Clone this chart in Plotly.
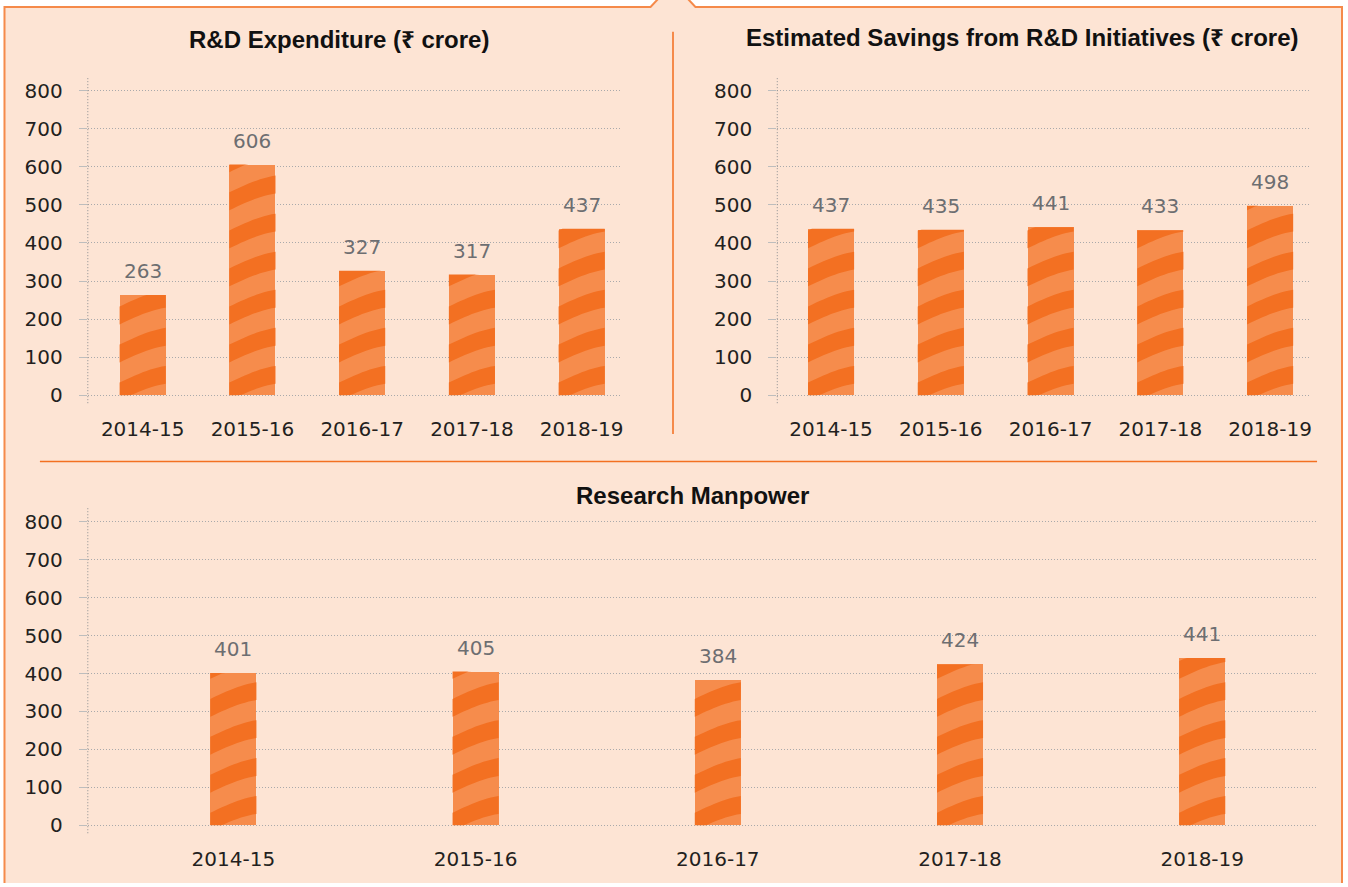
import math
import plotly.graph_objects as go

# ---------------- data ----------------
years = ["2014-15", "2015-16", "2016-17", "2017-18", "2018-19"]
rd_expenditure = [263, 606, 327, 317, 437]
estimated_savings = [437, 435, 441, 433, 498]
research_manpower = [401, 405, 384, 424, 441]
y_tick_values = [0, 100, 200, 300, 400, 500, 600, 700, 800]

titles = [
    "R&D Expenditure (₹ crore)",
    "Estimated Savings from R&D Initiatives (₹ crore)",
    "Research Manpower",
]

# ---------------- style ----------------
W, H = 1348, 887
PEACH = "#FDE4D4"
ORANGE = "#F37021"
LIGHT_ORANGE = "#F68C4C"
DARK_STRIPE = "#F37022"
GRID = "#A9A9AB"
TICK_FONT = dict(family="DejaVu Sans", size=20, color="#231F20")
LABEL_FONT = dict(family="DejaVu Sans", size=20, color="#6D6E71")
TITLE_FONT = dict(family="Liberation Sans, Arial, Noto Sans", size=24, color="#111111")


def px(x):
    return x / W


def py(y):
    return 1 - y / H


panels = [
    dict(values=rd_expenditure, xd=(88, 622), yd=(77, 405), xr=[-0.5, 4.355], bw=0.42,
         title_xy=(340, 40)),
    dict(values=estimated_savings, xd=(779, 1312), yd=(77, 405), xr=[-0.49, 4.355], bw=0.42,
         title_xy=(1025, 38)),
    dict(values=research_manpower, xd=(88, 1320), yd=(510, 837), xr=[-0.601, 4.474], bw=0.19,
         title_xy=(694, 498)),
]


def stripe_path(xc, half, v, period=100.0, thick=47.0, amp=44.0, phase=-14.0, n=12):
    parts = []
    k = -2
    while phase + k * period < v + 5:
        base = phase + k * period
        lo, hi = [], []
        for i in range(n + 1):
            t = i / n
            x = xc - half + 2 * half * t
            off = amp * (0.45 * t + 0.55 * math.sin(t * math.pi / 2))
            lo.append((x, min(max(base + off, 0), v)))
            hi.append((x, min(max(base + thick + off, 0), v)))
        if any(b[1] - a[1] > 0.01 for a, b in zip(lo, hi)):
            pts = lo + hi[::-1]
            parts.append("M " + " L ".join(f"{x:.4f},{y:.2f}" for x, y in pts) + " Z")
        k += 1
    return " ".join(parts)


fig = go.Figure()
shapes = []
annotations = []

# frame (peach panel with notch)
frame_pts = [(4, 887), (4, 7), (652, 7), (659, 0), (690, 0), (698, 7), (1345, 7), (1345, 887)]
shapes.append(dict(type="path", xref="paper", yref="paper", layer="below",
                   path="M " + " L ".join(f"{px(x):.5f},{py(y):.5f}" for x, y in frame_pts) + " Z",
                   fillcolor=PEACH, line=dict(width=0)))
border = (f"M {px(4.5):.5f},{py(887):.5f} L {px(4.5):.5f},{py(7):.5f} L {px(652):.5f},{py(7):.5f} "
          f"L {px(659.5):.5f},{py(-1):.5f} M {px(689.5):.5f},{py(-1):.5f} L {px(697):.5f},{py(7):.5f} "
          f"L {px(1345):.5f},{py(7):.5f} L {px(1345):.5f},{py(887):.5f}")
shapes.append(dict(type="path", xref="paper", yref="paper", layer="below", path=border,
                   line=dict(color="#F58A4A", width=2)))
# dividers
shapes.append(dict(type="line", xref="paper", yref="paper", x0=px(674.5), x1=px(674.5),
                   y0=py(32), y1=py(436), line=dict(color="#F58A4A", width=2), layer="below"))
shapes.append(dict(type="line", xref="paper", yref="paper", x0=px(40), x1=px(1320),
                   y0=py(463.5), y1=py(463.5), line=dict(color=ORANGE, width=1.5), layer="below"))

layout_axes = {}
for i, p in enumerate(panels):
    n = "" if i == 0 else str(i + 1)
    xa, ya = "x" + n, "y" + n
    xs = list(range(len(years)))
    fig.add_trace(go.Bar(
        x=xs, y=p["values"], width=p["bw"], xaxis=xa, yaxis=ya,
        marker=dict(color=LIGHT_ORANGE, line=dict(width=0)),
        hoverinfo="skip", showlegend=False,
    ))
    for xi, v in zip(xs, p["values"]):
        shapes.append(dict(type="path", xref=xa, yref=ya, layer="above",
                           path=stripe_path(xi, p["bw"] / 2, v),
                           fillcolor=DARK_STRIPE, line=dict(width=0)))
        annotations.append(dict(x=xi, y=v, xref=xa, yref=ya, text=str(v), showarrow=False,
                                yanchor="bottom", yshift=10, font=LABEL_FONT))
    # dotted y axis line
    shapes.append(dict(type="line", xref=xa + " domain", yref=ya + " domain",
                       x0=0, x1=0, y0=0, y1=1, layer="above",
                       line=dict(color="#8C8E91", width=1, dash="1px,2px")))
    layout_axes["xaxis" + n] = dict(
        domain=[px(p["xd"][0]), px(p["xd"][1])], range=p["xr"], anchor=ya,
        tickvals=xs, ticktext=years, showgrid=False, zeroline=False, showline=False,
        ticks="", tickfont=TICK_FONT, ticklabelstandoff=12, fixedrange=True,
    )
    layout_axes["yaxis" + n] = dict(
        domain=[py(p["yd"][1]), py(p["yd"][0])], range=[-21, 837], anchor=xa,
        tickvals=y_tick_values, showgrid=True, gridcolor=GRID, griddash="1px,2px", gridwidth=1,
        zeroline=False, showline=False, ticks="outside", ticklen=8, tickcolor="#BDBDBD",
        tickwidth=1, tickfont=TICK_FONT, ticklabelstandoff=12, fixedrange=True,
    )
    tx, ty = p["title_xy"]
    annotations.append(dict(x=px(tx), y=py(ty), xref="paper", yref="paper",
                            text="<b>" + titles[i] + "</b>", showarrow=False,
                            xanchor="center", yanchor="middle", font=TITLE_FONT))

fig.update_layout(
    width=W, height=H, margin=dict(l=0, r=0, t=0, b=0),
    paper_bgcolor="white", plot_bgcolor="rgba(0,0,0,0)",
    shapes=shapes, annotations=annotations, showlegend=False, bargap=0,
    **layout_axes,
)

fig.write_html(
    "out.html",
    config={"displayModeBar": False, "staticPlot": True},
    post_script=(
        "var s='position:fixed;top:0;left:0;margin:0;padding:0;width:1348px;"
        "height:887px;overflow:hidden;';"
        "document.body.setAttribute('style', s);"
        "document.documentElement.setAttribute('style','margin:0;padding:0;overflow:hidden;"
        "width:1348px;height:887px;');"
    ),
)
